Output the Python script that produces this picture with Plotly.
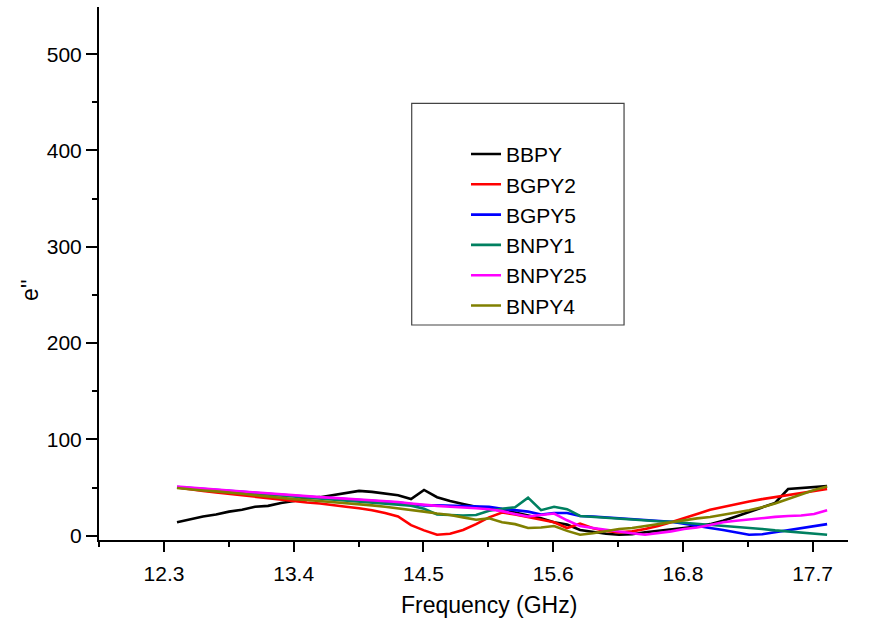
import numpy as np
import plotly.graph_objects as go

# Frequency sweep, 51 points across the Ku band (GHz)
freq = np.round(np.linspace(12.4, 18.0, 51), 3)

bbpy = [14, 17, 20, 22, 25, 27, 30, 31, 34, 36,
        39, 40, 42, 44, 46.5, 45.5, 44, 42, 38, 47.5,
        40, 36, 33, 30, 28, 26, 24, 21, 18, 14,
        11.5, 6, 4, 2, 1, 1.5, 3.5, 5, 6.5, 8.5,
        9.5, 12, 15.5, 20, 24.5, 29, 34, 48.5, 49.5, 50.5, 51.5]
bgpy2 = [50, 48, 46.5, 45, 43.5, 42, 40.5, 39, 37, 35.5,
         34.5, 33.5, 31.5, 30, 28.5, 26.5, 23.5, 20, 11, 5.5,
         1, 2, 6, 12, 19, 24, 22, 19.5, 16.5, 14,
         8, 12.5, 7.7, 5, 3.5, 4.5, 7, 10, 14, 18,
         22.5, 27, 30, 32.5, 35.5, 38, 40, 42.5, 44.5, 46.5, 48.5]
bgpy5 = [50.5, 49.5, 48.5, 47.3, 46.3, 45.2, 44.1, 43.1, 42, 41,
         40.3, 39.5, 38.8, 38, 37.3, 36.5, 35.5, 34.5, 33, 31.5,
         31.5, 31, 30.5, 30.5, 30, 28, 26.5, 25, 22, 23.5,
         23.5, 20.5, 20, 19, 18.5, 17.5, 16.5, 15.5, 14.5, 12.5,
         10, 8, 6, 3.5, 1, 1.5, 3.5, 6, 8, 10, 12]
bnpy1 = [50, 49, 48, 46.8, 45.8, 44.6, 43.5, 42.4, 41.2, 40.2,
         39.4, 38.5, 37.6, 36.6, 35.7, 34.8, 33.8, 32.8, 31.2, 28,
         22, 21.5, 21, 21.5, 26, 28, 29.5, 39.5, 26.5, 30,
         27.5, 20.5, 19.5, 18.5, 18, 17, 16, 15, 14.5, 13.5,
         12.5, 11.5, 10.5, 9.5, 8.5, 7, 5.5, 4.5, 3, 2, 1]
bnpy25 = [51, 50, 49, 47.8, 46.8, 45.7, 44.6, 43.6, 42.5, 41.5,
          40.8, 40, 39.3, 38.5, 37.8, 37, 36, 35, 33.5, 32,
          31, 30, 29.5, 28.5, 27.5, 25.5, 22.5, 20, 21.5, 23,
          16, 10, 8, 6, 4.5, 2.5, 1, 2.5, 4.5, 7,
          8.5, 11, 14, 15.5, 17, 18.5, 19.5, 20.5, 21, 22.5, 26.5]
bnpy4 = [49.5, 48, 47, 46, 45, 43.5, 42, 40.5, 39.2, 38,
         37, 36, 35, 33.5, 32.5, 31.5, 30, 28.5, 26.5, 25,
         23, 21.5, 19, 16.5, 18, 14, 12, 8, 8.5, 10,
         5, 1, 2.5, 4.5, 7, 8, 10, 12, 14, 16.5,
         18, 19.5, 21.5, 24, 26.5, 29.5, 33.5, 38, 43, 47.5, 51]

series = [
    ("BBPY", bbpy, "#000000"),
    ("BGPY2", bgpy2, "#ff0000"),
    ("BGPY5", bgpy5, "#0000ff"),
    ("BNPY1", bnpy1, "#008060"),
    ("BNPY25", bnpy25, "#ff00ff"),
    ("BNPY4", bnpy4, "#808000"),
]

tick_pos = [12.288, 13.405, 14.523, 15.640, 16.758, 17.875]
tick_text = ["12.3", "13.4", "14.5", "15.6", "16.8", "17.7"]

FONT = "Liberation Sans, Arial, sans-serif"

fig = go.Figure()
for name, vals, color in series:
    fig.add_trace(go.Scatter(x=freq, y=vals, mode="lines", name=name,
                             line=dict(color=color, width=2.6)))

# framed legend box
fig.add_shape(type="rect", xref="paper", yref="paper",
              x0=0.4175, x1=0.701, y0=0.4034, y1=0.8193,
              line=dict(color="#444444", width=1.2), fillcolor="white",
              layer="below")

# axis titles
fig.add_annotation(text="Frequency (GHz)", xref="paper", yref="paper",
                   x=(488.5 - 99) / 749, y=-(605 - 540) / 533,
                   xanchor="center", yanchor="middle", showarrow=False,
                   font=dict(size=23, family=FONT, color="#000000"))
fig.add_annotation(text="e''", xref="paper", yref="paper",
                   x=-(99 - 30) / 749, y=1 - (290 - 7) / 533,
                   xanchor="center", yanchor="middle", showarrow=False,
                   textangle=-90,
                   font=dict(size=23, family=FONT, color="#000000"))

fig.update_layout(
    width=873, height=626,
    margin=dict(l=99, r=25, t=7, b=86),
    paper_bgcolor="white", plot_bgcolor="white",
    font=dict(family=FONT, color="#000000"),
    showlegend=True,
    legend=dict(x=0.49, y=0.762, xanchor="left", yanchor="top",
                bgcolor="rgba(0,0,0,0)", borderwidth=0,
                font=dict(size=21, family=FONT)),
    xaxis=dict(
        range=[11.728, 18.18], showgrid=False, zeroline=False,
        showline=True, linecolor="#000000", linewidth=2,
        tickmode="array", tickvals=tick_pos, ticktext=tick_text,
        ticks="outside", ticklen=10, tickwidth=2, tickcolor="#000000",
        ticklabelstandoff=4,
        tickfont=dict(size=21, family=FONT),
        minor=dict(tickmode="linear", tick0=11.729, dtick=0.55875,
                   ticks="outside", ticklen=5, tickwidth=2,
                   tickcolor="#000000", showgrid=False),
    ),
    yaxis=dict(
        range=[-4.47, 549], showgrid=False, zeroline=False,
        showline=True, linecolor="#000000", linewidth=2,
        tickmode="linear", tick0=0, dtick=100,
        ticks="outside", ticklen=11, tickwidth=2, tickcolor="#000000",
        tickfont=dict(size=21, family=FONT),
        minor=dict(tickmode="linear", tick0=0, dtick=50,
                   ticks="outside", ticklen=5, tickwidth=2,
                   tickcolor="#000000", showgrid=False),
    ),
)

fig.write_html("out.html")
